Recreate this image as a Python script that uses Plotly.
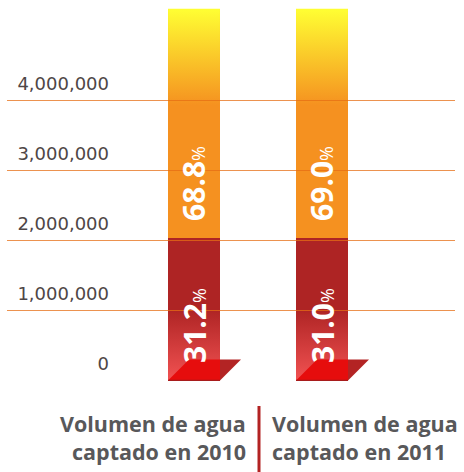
import plotly.graph_objects as go

# ---- data ----
categories = ["Volumen de agua<br>captado en 2010", "Volumen de agua<br>captado en 2011"]
vol_base = [2030000, 2030000]      # red (lower) segment
vol_top = [3280000, 3280000]       # orange/yellow (upper) segment
pct_base = ["31.2", "31.0"]
pct_top = ["68.8", "69.0"]
y_tickvals = [0, 1000000, 2000000, 3000000, 4000000]
y_ticktext = ["0", "1,000,000", "2,000,000", "3,000,000", "4,000,000"]

# ---- style ----
W, H = 464, 472
ML, MR, MT, MB = 130, 78, 6, 91
BAR_W = 0.406
PX_PER_X = (W - ML - MR) / 2.0
PX_PER_Y = 70 / 1e6
Y_OFF = 0.5 / PX_PER_Y
Y_MAX = (H - MT - MB) / PX_PER_Y
FOLD_PX = 21

xs = list(range(len(categories)))
fig = go.Figure()

fig.add_trace(go.Bar(x=xs, y=vol_base, width=BAR_W, marker=dict(color="#ae2424", line=dict(width=0)),
                     hoverinfo="skip", showlegend=False))
fig.add_trace(go.Bar(x=xs, y=vol_top, base=vol_base, width=BAR_W, marker=dict(color="#f59120", line=dict(width=0)),
                     hoverinfo="skip", showlegend=False))

fold_dx = FOLD_PX / PX_PER_X
fold_dy = FOLD_PX / PX_PER_Y

for i in xs:
    L, R = i - BAR_W / 2, i + BAR_W / 2
    b, t = vol_base[i], vol_base[i] + vol_top[i]
    g0 = b + 0.58 * vol_top[i]
    fig.add_trace(go.Scatter(x=[L, R, R, L, L], y=[g0, g0, t, t, g0], mode="lines", line=dict(width=0),
                             fill="toself", fillgradient=dict(type="vertical", start=g0, stop=t,
                             colorscale=[[0, "#f59120"], [1, "#ffff33"]]),
                             hoverinfo="skip", showlegend=False))
    r1 = 0.5 * b
    fig.add_trace(go.Scatter(x=[L, R, R, L, L], y=[0, 0, r1, r1, 0], mode="lines", line=dict(width=0),
                             fill="toself", fillgradient=dict(type="vertical", start=0, stop=r1,
                             colorscale=[[0, "#f25252"], [1, "#ae2424"]]),
                             hoverinfo="skip", showlegend=False))
    fig.add_trace(go.Scatter(x=[L, R, R, L + fold_dx, L], y=[0, 0, fold_dy, fold_dy, 0], mode="lines",
                             line=dict(width=0), fill="toself", fillcolor="#e60d0d",
                             hoverinfo="skip", showlegend=False))
    fig.add_trace(go.Scatter(x=[R, R + fold_dx, R, R], y=[0, fold_dy, fold_dy, 0], mode="lines",
                             line=dict(width=0), fill="toself", fillcolor="#b32424",
                             hoverinfo="skip", showlegend=False))
    fig.add_trace(go.Scatter(x=[L, R], y=[0, 0], mode="lines", line=dict(width=1.5, color="#a81c1c"),
                             hoverinfo="skip", showlegend=False))

# gridlines drawn above bars
plot_w = W - ML - MR
plot_h = H - MT - MB
x0d = (7 - ML) / plot_w
x1d = (455 - ML) / plot_w
for v in y_tickvals[1:]:
    fig.add_shape(type="line", xref="x domain", yref="y", x0=x0d, x1=x1d, y0=v, y1=v,
                  line=dict(color="rgba(230,110,20,0.75)", width=1), layer="above")

# percentage labels
for i in xs:
    for base_v, txt in ((0, pct_base[i]), (vol_base[i], pct_top[i])):
        fig.add_annotation(x=i, y=base_v, xref="x", yref="y", yanchor="bottom", xanchor="center",
                           yshift=15, textangle=-90, showarrow=False,
                           text="<b>%s</b><span style='font-size:18px'>%%</span>" % txt,
                           font=dict(family="Open Sans", size=30, color="white"))

# category labels below (one annotation per line)
LINE_Y = [423, 451]
for i, cat in enumerate(categories):
    for k, line in enumerate(cat.split("<br>")):
        if i == 0:
            xa, xpos = "right", (248 - ML) / plot_w
        else:
            xa, xpos = "left", (270 - ML) / plot_w
        fig.add_annotation(x=xpos, xref="x domain", xanchor=xa, align=xa,
                           y=(H - MB - LINE_Y[k]) / plot_h, yref="paper", yanchor="middle", showarrow=False,
                           text="<b>%s</b>" % line, font=dict(family="Open Sans", size=21.5, color="#58585a"))
fig.add_shape(type="line", xref="x domain", yref="paper", x0=(259 - ML) / plot_w, x1=(259 - ML) / plot_w,
              y0=(H - MB - 406) / plot_h, y1=(H - MB - 474) / plot_h, line=dict(color="#b22222", width=3))

fig.update_layout(
    width=W, height=H, margin=dict(l=ML, r=MR, t=MT, b=MB, autoexpand=False),
    paper_bgcolor="white", plot_bgcolor="white", barmode="stack", bargap=0,
    showlegend=False,
    xaxis=dict(range=[-0.5, 1.5], showgrid=False, zeroline=False, showticklabels=False, showline=False,
               automargin=False),
    yaxis=dict(range=[-Y_OFF, Y_MAX - Y_OFF], showgrid=False, zeroline=False, showline=False,
               tickvals=y_tickvals, ticktext=y_ticktext, ticks="", automargin=False,
               ticklabelshift=-17, ticklabelstandoff=20,
               tickfont=dict(family="DejaVu Sans", size=18, color="#4e4646")),
)

fig.write_html("out.html", config={"displayModeBar": False},
               post_script="document.body.style.margin='0';document.body.style.overflow='hidden';")
